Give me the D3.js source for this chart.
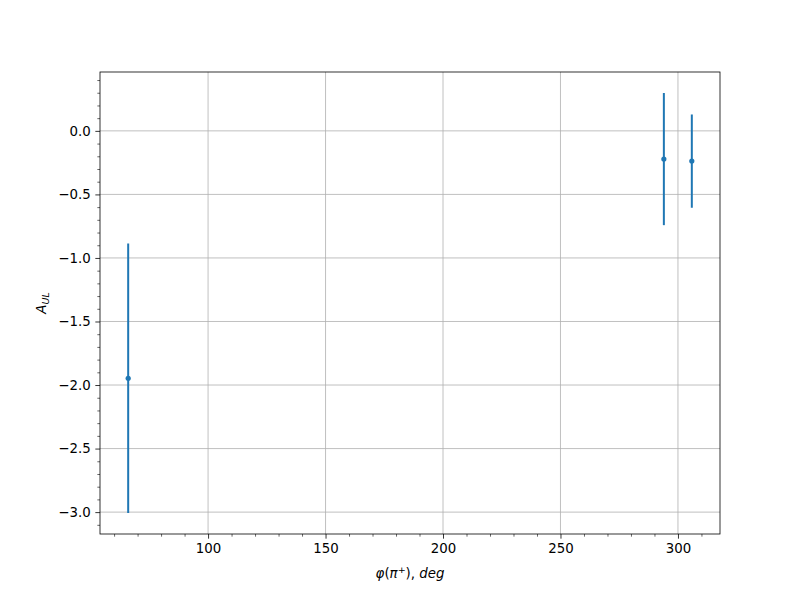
<!DOCTYPE html>
<html>
<head>
<meta charset="utf-8">
<script src="https://cdn.jsdelivr.net/npm/d3@7"></script>
<style>
body { margin: 0; background: #fff; }
text { font-family: "DejaVu Sans", sans-serif; }
</style>
</head>
<body>
<svg id="chart" width="800" height="600"></svg>
<script>
const phi = [66.0, 294.0, 305.9];
const aul = [-1.947, -0.222, -0.238];
const err = [1.06, 0.52, 0.367];
const xTicks = [100, 150, 200, 250, 300];
const yTicks = [-3.0, -2.5, -2.0, -1.5, -1.0, -0.5, 0.0];

const svg = d3.select("#chart");
const L = 100, R = 720, T = 72, B = 534;
const color = "#1f77b4";

const xmin = d3.min(phi), xmax = d3.max(phi);
const xpad = (xmax - xmin) * 0.05;
const ymin = d3.min(aul.map((v, i) => v - err[i])), ymax = d3.max(aul.map((v, i) => v + err[i]));
const ypad = (ymax - ymin) * 0.05;

const x = d3.scaleLinear().domain([xmin - xpad, xmax + xpad]).range([L, R]);
const y = d3.scaleLinear().domain([ymin - ypad, ymax + ypad]).range([B, T]);

svg.append("rect").attr("x", 0).attr("y", 0).attr("width", 800).attr("height", 600).attr("fill", "#fff");

// grid
const g = svg.append("g");
xTicks.forEach(t => g.append("line").attr("x1", x(t)).attr("x2", x(t)).attr("y1", T).attr("y2", B)
  .attr("stroke", "#b0b0b0").attr("stroke-width", 0.8));
yTicks.forEach(t => g.append("line").attr("x1", L).attr("x2", R).attr("y1", y(t)).attr("y2", y(t))
  .attr("stroke", "#b0b0b0").attr("stroke-width", 0.8));

// minor ticks
const xMinor = d3.range(60, 320, 10).filter(v => v % 50 !== 0 && x(v) >= L && x(v) <= R);
const yMinor = d3.range(-31, 5, 1).map(v => v / 10).filter(v => Math.abs(v * 10) % 5 !== 0 && y(v) >= T && y(v) <= B);

// axes
const fmt = d => d3.format(".1f")(d).replace("-", "\u2212");
const xAxis = d3.axisBottom(x).tickValues(xTicks).tickSize(4.67).tickPadding(4.7).tickFormat(d3.format("d"));
const yAxis = d3.axisLeft(y).tickValues(yTicks).tickSize(4.67).tickPadding(4.7).tickFormat(fmt);

const gx = svg.append("g").attr("transform", `translate(0,${B})`).call(xAxis);
const gy = svg.append("g").attr("transform", `translate(${L},0)`).call(yAxis);
[gx, gy].forEach(a => {
  a.select(".domain").remove();
  a.selectAll("line").attr("stroke", "#000").attr("stroke-width", 0.8);
  a.selectAll("text").attr("font-size", "13.33px").attr("fill", "#000").attr("font-family", "DejaVu Sans");
});
svg.append("g").attr("transform", `translate(0,${B})`)
  .call(d3.axisBottom(x).tickValues(xMinor).tickSize(2.67).tickFormat(""))
  .call(a => { a.select(".domain").remove(); a.selectAll("line").attr("stroke", "#000").attr("stroke-width", 0.6); });
svg.append("g").attr("transform", `translate(${L},0)`)
  .call(d3.axisLeft(y).tickValues(yMinor).tickSize(2.67).tickFormat(""))
  .call(a => { a.select(".domain").remove(); a.selectAll("line").attr("stroke", "#000").attr("stroke-width", 0.6); });

// error bars
const pts = phi.map((p, i) => ({ p, v: aul[i], e: err[i] }));
svg.append("g").selectAll("line").data(pts).join("line")
  .attr("x1", d => x(d.p)).attr("x2", d => x(d.p))
  .attr("y1", d => y(d.v - d.e)).attr("y2", d => y(d.v + d.e))
  .attr("stroke", color).attr("stroke-width", 2);
svg.append("g").selectAll("circle").data(pts).join("circle")
  .attr("cx", d => x(d.p)).attr("cy", d => y(d.v)).attr("r", 2.6).attr("fill", color);

// frame
svg.append("rect").attr("x", L).attr("y", T).attr("width", R - L).attr("height", B - T)
  .attr("fill", "none").attr("stroke", "#000").attr("stroke-width", 0.8);

// labels
const xl = svg.append("text").attr("x", (L + R) / 2).attr("y", 578).attr("text-anchor", "middle")
  .attr("font-size", "13.33px").attr("font-style", "italic");
xl.append("tspan").attr("font-style", "italic").text("φ");
xl.append("tspan").attr("font-style", "normal").text("(");
xl.append("tspan").text("π");
xl.append("tspan").attr("font-size", "9.5px").attr("dy", -5).attr("font-style", "normal").text("+");
xl.append("tspan").attr("dy", 5).attr("font-style", "normal").text("), ");
xl.append("tspan").text("deg");

const yl = svg.append("text").attr("transform", `translate(46,${(T + B) / 2}) rotate(-90)`)
  .attr("text-anchor", "middle").attr("font-size", "13.33px").attr("font-style", "italic");
yl.append("tspan").text("A");
yl.append("tspan").attr("font-size", "9.5px").attr("dy", 3).text("UL");
</script>
</body>
</html>
